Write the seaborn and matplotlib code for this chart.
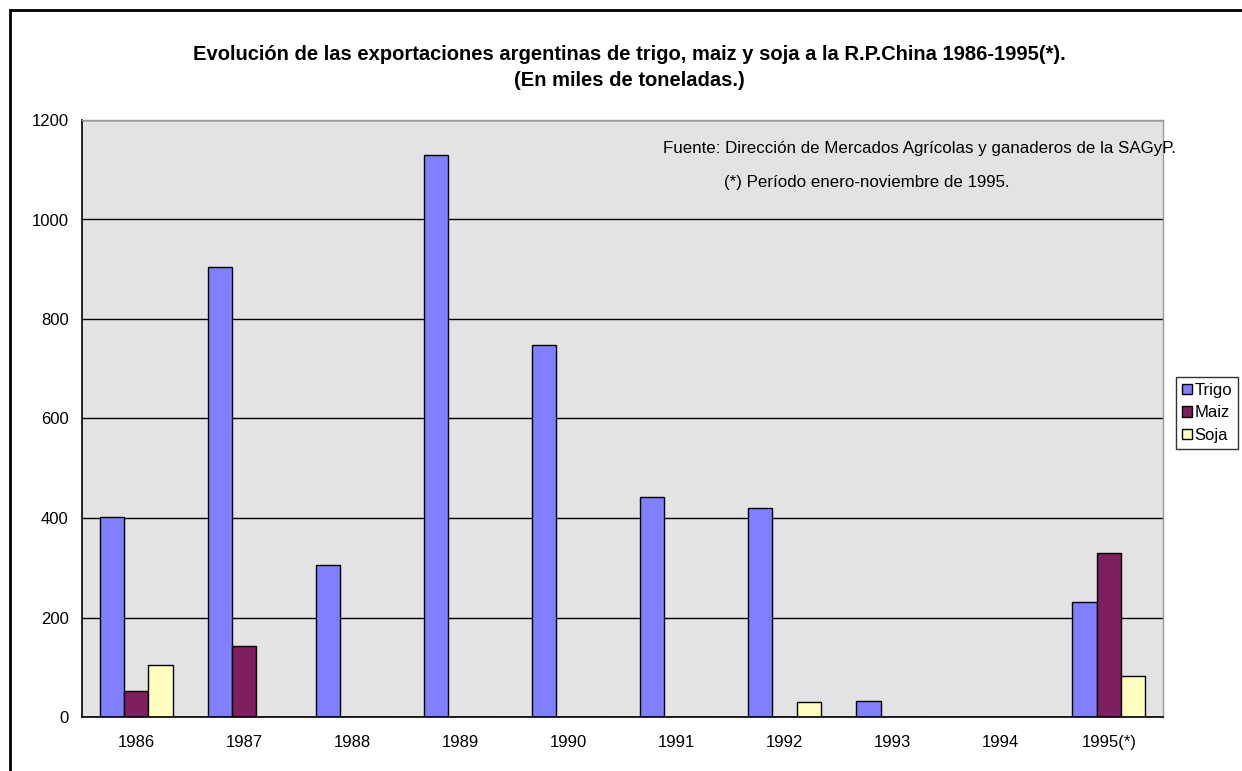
import matplotlib
matplotlib.use("Agg")
import matplotlib.pyplot as plt
import pandas as pd
import seaborn as sns
from matplotlib.patches import Rectangle

years = ["1986", "1987", "1988", "1989", "1990", "1991", "1992", "1993", "1994", "1995(*)"]
trigo = [402, 905, 305, 1130, 748, 443, 420, 33, 0, 231]
maiz = [53, 143, 0, 0, 0, 0, 0, 0, 0, 330]
soja = [105, 0, 0, 0, 0, 0, 31, 0, 0, 83]
series = ["Trigo", "Maiz", "Soja"]
colors = ["#8080FF", "#7F1F5F", "#FFFFC0"]

df = pd.DataFrame({"year": years * 3,
                   "serie": [s for s in series for _ in years],
                   "valor": trigo + maiz + soja})

sns.set_theme(style="white")
plt.rcParams["font.family"] = ["Liberation Sans", "DejaVu Sans"]
plt.rcParams["text.color"] = "black"
plt.rcParams["xtick.color"] = "black"
plt.rcParams["ytick.color"] = "black"

W, H = 1242, 771
fig = plt.figure(figsize=(W / 100, H / 100), dpi=100)
ax = fig.add_axes([82 / W, 1 - 717 / H, (1163 - 82) / W, (717 - 120) / H])
ax.set_facecolor("#E3E3E3")

sns.barplot(data=df, x="year", y="valor", hue="serie", order=years,
            hue_order=series, palette=colors, width=0.675, gap=0,
            edgecolor="black", linewidth=1.0, saturation=1, ax=ax, legend=False)

ax.set_ylim(0, 1200)
ax.set_xlim(-0.5, len(years) - 0.5)
ax.set_yticks(range(0, 1201, 200))
ax.yaxis.grid(True, color="black", linewidth=1.0)
ax.set_axisbelow(True)
ax.set_xlabel("")
ax.set_ylabel("")

# category ticks sit on the boundaries, labels centred under each group
ax.set_xticks([i - 0.5 for i in range(len(years) + 1)], minor=False)
ax.set_xticklabels([""] * (len(years) + 1))
ax.set_xticks(range(len(years)), minor=True)
ax.set_xticklabels(years, minor=True, fontsize=12)
ax.tick_params(axis="x", which="major", direction="inout", length=8.6, width=1)
ax.tick_params(axis="x", which="minor", length=0, pad=13)
ax.tick_params(axis="y", direction="out", length=3.6, width=1, labelsize=12, pad=6)

for side in ["left", "bottom"]:
    ax.spines[side].set_color("black")
    ax.spines[side].set_linewidth(1.2)
for side in ["top", "right"]:
    ax.spines[side].set_color("#9A9A9A")
    ax.spines[side].set_linewidth(1.0)

fig.text(663 / W, 1 - 148 / H,
         "Fuente: Dirección de Mercados Agrícolas y ganaderos de la SAGyP.",
         ha="left", va="center", fontsize=12.2)
fig.text(724 / W, 1 - 182 / H, "(*) Período enero-noviembre de 1995.",
         ha="left", va="center", fontsize=12.2)

fig.text(0.507, 1 - 54 / H,
         "Evolución de las exportaciones argentinas de trigo, maiz y soja a la R.P.China 1986-1995(*).",
         ha="center", va="center", fontsize=14.5, fontweight="bold")
fig.text(0.507, 1 - 80 / H, "(En miles de toneladas.)",
         ha="center", va="center", fontsize=14.5, fontweight="bold")

handles = [Rectangle((0, 0), 1, 1, facecolor=c, edgecolor="black", linewidth=1) for c in colors]
leg = fig.legend(handles, series, loc="upper left", bbox_to_anchor=(1176 / W, 1 - 377 / H),
                 fontsize=12, frameon=True, fancybox=False, handlelength=0.6, handleheight=0.6,
                 handletextpad=0.15, borderpad=0.35, labelspacing=0.45, borderaxespad=0)
leg.get_frame().set_edgecolor("black")
leg.get_frame().set_linewidth(1.0)

# outer chart frame
fig.patches.append(Rectangle((10 / W, -0.01), 1.05, 1 - 10 / H + 0.01, transform=fig.transFigure,
                             fill=False, edgecolor="black", linewidth=2.0))

fig.savefig("out.png", dpi=100, facecolor="white")
